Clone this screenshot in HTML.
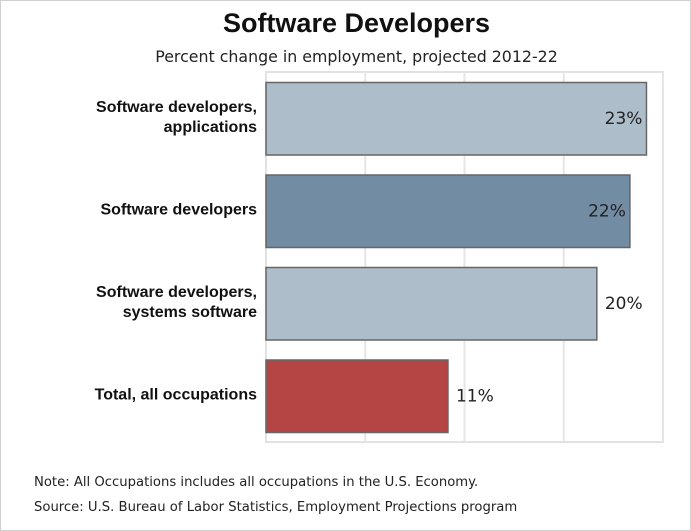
<!DOCTYPE html>
<html><head><meta charset="utf-8"><style>
body{margin:0;background:#fff;}
#wrap{position:relative;width:689px;height:529px;border:1px solid #d0d0d0;overflow:hidden;font-family:"DejaVu Sans","Liberation Sans",sans-serif;}
.t{position:absolute;white-space:nowrap;}
</style></head><body>
<div id="wrap">
<div class="t" style="left:0;width:711px;text-align:center;top:7px;font:bold 27px 'Liberation Sans',sans-serif;color:#111;">Software Developers</div>
<div class="t" style="left:0;width:711px;text-align:center;top:46px;font-size:15.8px;color:#222;">Percent change in employment, projected 2012-22</div>
<svg id="chart" width="689" height="529" style="position:absolute;left:0;top:0"></svg>
<div class="t" style="left:33px;top:474px;font-size:13.2px;color:#222;">Note: All Occupations includes all occupations in the U.S. Economy.</div>
<div class="t" style="left:33px;top:499px;font-size:13.2px;color:#222;">Source: U.S. Bureau of Labor Statistics, Employment Projections program</div>
</div>
<script>
const categories=[["Software developers,","applications"],["Software developers"],["Software developers,","systems software"],["Total, all occupations"]];
const values=[23,22,20,11];
const valueLabels=["23%","22%","20%","11%"];
const colors=["#adbeca","#718ca3","#adbeca","#b54444"];
const gridTicks=[6,12,18,24];
const NS="http://www.w3.org/2000/svg";
const svg=document.getElementById('chart');
const L=265,R=662,T=71,B=441,maxV=24;
const x=v=>L+(v/maxV)*(R-L);
const band=(B-T)/categories.length;
function el(t,a){const e=document.createElementNS(NS,t);for(const k in a)e.setAttribute(k,a[k]);svg.appendChild(e);return e;}
const bg=el('rect',{x:L,y:T,width:R-L,height:B-T,fill:'#fff',stroke:'#e2e2e2','stroke-width':2});


gridTicks.forEach(g=>{const l=el('line',{x1:x(g),x2:x(g),y1:T,y2:B,stroke:'#e6e6e6','stroke-width':2});

});
values.forEach((v,i)=>{
const y0=T+i*band+10.5,h=band-20;
const r=el('rect',{x:L,y:y0,width:x(v)-L,height:h,fill:colors[i],stroke:'#666','stroke-width':1.5});


const inside=v>=21;
const tx=el('text',{x:inside?x(v)-4:x(v)+8,y:y0+h/2+5,'text-anchor':inside?'end':'start','font-size':17,fill:'#222','font-family':'DejaVu Sans,sans-serif'});
tx.textContent=valueLabels[i];


const lines=categories[i];
lines.forEach((s,j)=>{const c=el('text',{x:256,y:y0+h/2+3+(j-(lines.length-1)/2)*20,'text-anchor':'end','font-size':16,'font-weight':'bold',fill:'#111','font-family':'Liberation Sans,sans-serif'});
c.textContent=s;

});
});
</script>
</body></html>
